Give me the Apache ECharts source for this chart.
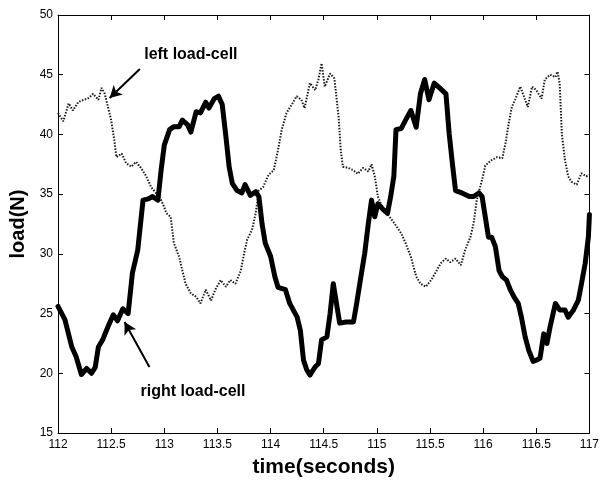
<!DOCTYPE html>
<html><head><meta charset="utf-8">
<script src="https://cdn.jsdelivr.net/npm/echarts@6/dist/echarts.min.js"></script>
<style>html,body{margin:0;padding:0;background:#fff}#c{width:602px;height:484px}</style>
</head><body><div id="c"></div>
<script>
const xTicks = [112, 112.5, 113, 113.5, 114, 114.5, 115, 115.5, 116, 116.5, 117];
const yTicks = [15, 20, 25, 30, 35, 40, 45, 50];
const rightT = [112.0,112.065,112.13,112.17,112.22,112.27,112.315,112.35,112.38,112.42,112.47,112.52,112.56,112.61,112.66,112.70,112.75,112.80,112.85,112.89,112.94,112.97,113.0,113.05,113.09,113.14,113.17,113.22,113.25,113.30,113.34,113.39,113.42,113.47,113.51,113.545,113.58,113.61,113.64,113.685,113.73,113.76,113.81,113.86,113.89,113.92,113.95,114.0,114.04,114.07,114.14,114.18,114.25,114.28,114.31,114.34,114.37,114.42,114.45,114.48,114.53,114.56,114.59,114.62,114.65,114.71,114.78,114.81,114.85,114.885,114.92,114.95,114.98,115.01,115.06,115.10,115.13,115.16,115.18,115.23,115.27,115.32,115.37,115.41,115.45,115.49,115.54,115.59,115.65,115.68,115.71,115.74,115.80,115.87,115.91,115.96,115.99,116.02,116.05,116.08,116.115,116.15,116.18,116.22,116.255,116.29,116.33,116.36,116.395,116.43,116.47,116.50,116.535,116.57,116.60,116.63,116.68,116.72,116.77,116.80,116.85,116.895,116.925,116.96,116.99,117.0];
const rightV = [25.6,24.5,22.2,21.4,19.9,20.4,20.0,20.5,22.2,22.8,23.9,24.9,24.4,25.4,25.0,28.4,30.3,34.5,34.6,34.8,34.5,37.0,39.1,40.4,40.65,40.65,41.2,40.8,40.2,41.9,41.8,42.7,42.2,43.0,43.2,42.5,39.8,37.3,35.9,35.3,35.1,35.8,34.9,35.2,34.8,32.5,30.9,29.8,28.1,27.2,27.0,25.85,24.7,23.6,21.1,20.3,19.85,20.55,20.8,22.8,23.05,25.0,27.5,25.85,24.2,24.3,24.3,25.85,28.1,30.0,32.55,34.5,33.1,34.2,33.7,33.4,34.8,36.5,40.4,40.5,41.2,42.0,40.6,43.4,44.6,42.9,44.3,43.9,43.4,40.1,37.6,35.3,35.1,34.8,34.8,35.1,34.8,33.1,31.4,31.4,30.6,28.6,28.1,27.8,27.0,26.4,25.85,24.7,23.05,21.9,21.0,21.1,21.25,23.3,22.5,23.9,25.85,25.3,25.3,24.7,25.3,26.1,27.5,29.2,31.4,33.3];
const leftT = [112.0,112.05,112.10,112.14,112.19,112.24,112.28,112.33,112.38,112.41,112.44,112.47,112.50,112.53,112.55,112.60,112.64,112.69,112.735,112.78,112.83,112.875,112.92,112.97,113.0,113.02,113.06,113.09,113.14,113.17,113.20,113.25,113.30,113.34,113.39,113.44,113.48,113.53,113.58,113.62,113.67,113.72,113.75,113.78,113.825,113.86,113.89,113.93,113.98,114.03,114.07,114.105,114.15,114.20,114.245,114.29,114.32,114.37,114.42,114.45,114.48,114.51,114.56,114.60,114.64,114.66,114.68,114.73,114.78,114.82,114.87,114.92,114.95,114.98,115.01,115.06,115.12,115.165,115.23,115.27,115.32,115.37,115.41,115.46,115.51,115.55,115.60,115.65,115.69,115.74,115.79,115.83,115.88,115.91,115.94,115.99,116.02,116.08,116.13,116.18,116.21,116.24,116.27,116.30,116.35,116.395,116.42,116.46,116.50,116.55,116.58,116.63,116.68,116.70,116.72,116.74,116.77,116.80,116.83,116.88,116.925,116.97,117.0];
const leftV = [41.8,41.1,42.6,42.0,42.7,42.9,43.0,43.4,42.9,43.9,43.4,42.3,41.2,39.5,38.1,38.4,37.6,37.3,37.7,37.2,36.5,35.6,35.1,34.5,33.9,33.4,33.1,30.9,29.75,28.6,27.5,26.7,26.4,25.85,27.0,26.1,27.0,27.8,27.25,27.8,27.5,28.6,30.0,31.2,32.0,33.4,35.3,35.6,36.6,37.0,38.7,40.4,41.8,42.5,43.2,42.9,42.2,44.3,43.7,44.6,45.95,44.0,45.1,44.7,41.5,38.7,37.3,37.2,37.0,36.7,37.2,36.9,37.5,36.5,34.8,33.7,33.1,32.55,31.7,30.9,29.75,28.1,27.5,27.25,27.8,28.4,29.2,29.6,29.3,29.6,29.05,30.3,31.4,32.55,34.5,36.2,37.4,37.85,38.1,38.0,39.25,40.9,42.3,42.9,44.0,42.9,42.3,44.0,43.7,43.0,44.6,45.0,44.8,45.25,44.3,40.1,37.85,36.5,36.05,35.8,36.75,36.5,36.6];
const leftLabel = 'left load-cell';
const rightLabel = 'right load-cell';
const leftLabelPos = [113.25, 46.7];
const rightLabelPos = [113.27, 18.45];
const leftArrow = [[112.77, 45.48], [112.486, 43.05]];
const rightArrow = [[112.86, 20.52], [112.626, 24.29]];

const FONT = '"Liberation Sans", Arial, sans-serif';
const pairs = (t, v) => t.map((x, i) => [x, v[i]]);
const chart = echarts.init(document.getElementById('c'), null, {renderer: 'canvas'});
const axisCommon = {
  type: 'value',
  axisLine: {show: true, onZero: false, lineStyle: {color: '#000', width: 1}},
  axisTick: {show: true, inside: true, length: 5, lineStyle: {color: '#000'}},
  splitLine: {show: false},
};
chart.setOption({
  animation: false,
  backgroundColor: '#fff',
  grid: {left: 58, top: 15, right: 9, bottom: 51, containLabel: false},
  xAxis: [
    Object.assign({}, axisCommon, {
      min: xTicks[0], max: xTicks[xTicks.length - 1], interval: 0.5, position: 'bottom',
      axisLabel: {color: '#000', fontFamily: FONT, fontSize: 12, margin: 6},
      name: 'time(seconds)', nameLocation: 'middle', nameGap: 24,
      nameTextStyle: {color: '#000', fontFamily: FONT, fontSize: 21, fontWeight: 'bold'}
    }),
    Object.assign({}, axisCommon, {
      min: xTicks[0], max: xTicks[xTicks.length - 1], interval: 0.5, position: 'top',
      axisLabel: {show: false}
    })
  ],
  yAxis: [
    Object.assign({}, axisCommon, {
      min: yTicks[0], max: yTicks[yTicks.length - 1], interval: 5, position: 'left',
      axisLabel: {color: '#000', fontFamily: FONT, fontSize: 12, margin: 5},
      name: 'load(N)', nameLocation: 'middle', nameGap: 30,
      nameTextStyle: {color: '#000', fontFamily: FONT, fontSize: 20, fontWeight: 'bold'}
    }),
    Object.assign({}, axisCommon, {
      min: yTicks[0], max: yTicks[yTicks.length - 1], interval: 5, position: 'right',
      axisLabel: {show: false}
    })
  ],
  series: [
    {
      type: 'line', name: leftLabel, data: pairs(leftT, leftV), showSymbol: false,
      lineStyle: {color: '#1a1a1a', width: 2, type: [1.5, 1.5]},
      markPoint: {
        symbol: 'circle', symbolSize: 0, silent: true,
        label: {show: true, color: '#000', fontFamily: FONT, fontSize: 16, fontWeight: 'bold', formatter: p => p.name},
        data: [
          {name: leftLabel, coord: leftLabelPos},
          {name: rightLabel, coord: rightLabelPos}
        ]
      },
      markLine: {
        silent: true, symbol: ['none', 'arrow'], symbolSize: [10, 12],
        label: {show: false},
        lineStyle: {color: '#000', width: 2, type: 'solid'},
        data: [
          [{coord: leftArrow[0]}, {coord: leftArrow[1]}],
          [{coord: rightArrow[0]}, {coord: rightArrow[1]}]
        ]
      }
    },
    {
      type: 'line', name: rightLabel, data: pairs(rightT, rightV), showSymbol: false,
      lineStyle: {color: '#000', width: 5, join: 'round', cap: 'round'}
    }
  ]
});
</script>
</body></html>
